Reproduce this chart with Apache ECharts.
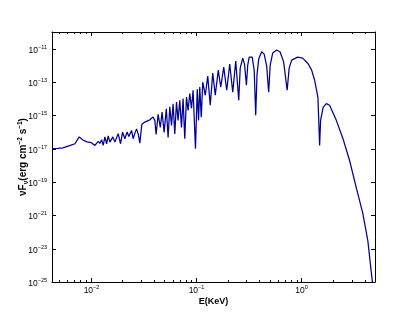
<!DOCTYPE html>
<html><head><meta charset="utf-8">
<script src="https://cdn.jsdelivr.net/npm/echarts@6/dist/echarts.min.js"></script>
<style>html,body{margin:0;padding:0;background:#fff}#c{width:417px;height:313px}</style>
</head><body><div id="c"></div>
<script>
// Energy (keV)
const energy = [0.00430,0.00490,0.00546,0.00622,0.00710,0.00779,0.00845,0.00922,0.01017,0.01098,
0.01180,0.01225,0.01271,0.01316,0.01366,0.01418,0.01468,0.01524,0.01626,0.01699,
0.01826,0.01924,0.02010,0.02113,0.02222,0.02306,0.02446,0.02533,0.02629,0.02729,
0.02838,0.02932,0.03062,0.03269,0.03646,0.03918,0.04067,0.04185,0.04371,0.04586,
0.04770,0.04983,0.05228,0.05438,0.05643,0.05856,0.06065,0.06293,0.06531,0.06763,
0.07018,0.07283,0.07542,0.07827,0.08123,0.08414,0.08731,0.09061,0.09385,0.09888,
0.1028,0.1058,0.1086,0.1122,0.1159,0.1225,0.1293,0.1366,0.1442,0.1524,
0.1627,0.1718,0.1834,0.1958,0.2091,0.2233,0.2384,0.2545,0.2629,0.2777,
0.2887,0.3011,0.3097,0.3200,0.3306,0.3416,0.3568,0.3687,0.3793,0.3937,
0.4203,0.4439,0.4688,0.4897,0.5060,0.5344,0.5832,0.6292,0.6794,0.7333,
0.7661,0.8091,0.9222,1.028,1.155,1.252,1.337,1.436,1.491,1.523,
1.609,1.725,1.854,2.147,2.479,2.869,3.32,3.836,4.277,4.709,4.79];
// nu F_nu (erg cm^-2 s^-1)
const flux = [9.9e-18,1.03e-17,1.13e-17,1.46e-17,1.97e-17,5.07e-17,3.34e-17,2.54e-17,2.27e-17,1.56e-17,
2.72e-17,2.06e-17,3.44e-17,1.56e-17,5.07e-17,1.97e-17,5.82e-17,2.47e-17,5.07e-17,2.47e-17,
7.9e-17,1.97e-17,9.86e-17,3.95e-17,9.9e-17,5.43e-17,1.25e-16,3.95e-17,8.24e-17,1.54e-16,
7.17e-17,2.14e-17,2.87e-16,3.95e-16,5.36e-16,7.9e-16,5.0e-16,7.17e-17,1.15e-15,1.89e-16,
1.58e-15,9.46e-17,2.47e-15,4.73e-17,3.25e-15,2.5e-16,4.93e-15,7.69e-17,6.33e-15,5.0e-16,
8.0e-15,1.89e-16,1.01e-14,3.95e-17,1.26e-14,2.0e-15,2.03e-14,2.64e-15,3.21e-14,9.9e-18,
3.68e-14,5.0e-16,5.07e-14,7.59e-16,9.73e-14,1.6e-14,2.24e-13,4.0e-15,3.39e-13,1.6e-14,
5.14e-13,4.86e-14,7.8e-13,3.21e-14,1.18e-12,2.43e-14,1.79e-12,8.0e-15,6.78e-13,2.72e-12,
1.18e-12,6.41e-14,1.03e-12,3.12e-12,4.11e-12,3.12e-12,5.14e-13,1.0e-15,2.57e-13,2.37e-12,
6.5e-12,4.73e-12,8.95e-13,2.43e-14,1.03e-12,5.43e-12,8.24e-12,6.24e-12,1.56e-12,3.21e-14,
6.78e-13,2.06e-12,3.12e-12,2.72e-12,1.3e-12,5.14e-13,1.28e-13,1.21e-14,1.56e-17,5.0e-16,
3.03e-15,5.07e-15,4.0e-15,5.0e-16,4.12e-17,1.95e-18,4.6e-20,1.25e-21,2.95e-23,1.15e-25,7.6e-26];
const xRange = [0.0043, 5];
const yRange = [1e-25, 1e-10];
const xMajorTicks = [0.01, 0.1, 1];
const xMinorTicks = [0.005,0.006,0.007,0.008,0.009,0.02,0.03,0.04,0.05,0.06,0.07,0.08,0.09,
0.2,0.3,0.4,0.5,0.6,0.7,0.8,0.9,2,3,4];
const yTicks = [1e-25,1e-23,1e-21,1e-19,1e-17,1e-15,1e-13,1e-11];
const xLabel = 'E(KeV)';

const FONT = 'Liberation Sans';
const chart = echarts.init(document.getElementById('c'), null, {renderer:'canvas'});
function powLabel(v){
  const e = Math.round(Math.log10(v));
  return '{b|10}{s|' + String(e).replace('-', '\u2212') + '}';
}
const richLab = {
  b:{fontSize:8.5, fontFamily:FONT, color:'#000', verticalAlign:'bottom', lineHeight:11},
  s:{fontSize:5.5, fontFamily:FONT, color:'#000', verticalAlign:'top', lineHeight:11, padding:[0,0,5,0]}
};
const lineAx = {show:true, onZero:false, lineStyle:{color:'#000', width:1}};
function xAx(pos, labels){
  return {type:'log', position:pos, min:xRange[0], max:xRange[1], logBase:10,
    axisLine:lineAx, axisTick:{show:false}, splitLine:{show:false},
    axisLabel:{show:false},
    name: labels ? xLabel : '', nameLocation:'middle', nameGap:15,
    nameTextStyle:{fontFamily:FONT, fontSize:9, fontWeight:'bold', color:'#000'}};
}
function yAx(pos, labels){
  return {type:'log', position:pos, min:yRange[0], max:yRange[1], logBase:10,
    axisLine:lineAx, axisTick:{show:false}, splitLine:{show:false},
    axisLabel:{show:false},
    name: labels ? '{a|\u03bdF}{sub|\u03bd}{a|(erg cm}{sup|\u22122}{a| s}{sup|\u22121}{a|)}' : '',
    nameLocation:'middle', nameGap:22, nameRotate:90,
    nameTextStyle:{rich:{
      a:{fontFamily:FONT, fontSize:10, fontWeight:'bold', color:'#000', lineHeight:13, verticalAlign:'middle'},
      sub:{fontFamily:FONT, fontSize:6.5, fontWeight:'bold', color:'#000', lineHeight:13, padding:[6,0,0,0]},
      sup:{fontFamily:FONT, fontSize:6.5, fontWeight:'bold', color:'#000', lineHeight:13, padding:[0,0,6,0]}
    }}};
}
function xTickSeries(vals, len, withLabel){
  return {type:'custom', xAxisIndex:0, yAxisIndex:0, silent:true,
    data:vals.map(v=>[v, 1e-20]), encode:{x:0, y:1},
    renderItem:function(params, api){
      const x = Math.round(api.coord([api.value(0), 1e-20])[0]) + 0.5;
      const cs = params.coordSys;
      const b = cs.y + cs.height, t = cs.y;
      const ch = [
        {type:'line', shape:{x1:x, y1:b, x2:x, y2:b-len}, style:{stroke:'#000', lineWidth:1}},
        {type:'line', shape:{x1:x, y1:t, x2:x, y2:t+len}, style:{stroke:'#000', lineWidth:1}}
      ];
      if (withLabel) ch.push({type:'text', style:{text:powLabel(api.value(0)), rich:richLab,
        x:x, y:b+2, align:'center', verticalAlign:'top'}});
      return {type:'group', children:ch};
    }};
}
chart.setOption({
  animation:false,
  backgroundColor:'#fff',
  grid:{left:52, top:32, right:42, bottom:31, containLabel:false},
  xAxis:[xAx('bottom', true), xAx('top', false)],
  yAxis:[yAx('left', true), yAx('right', false)],
  series:[
    {type:'line', xAxisIndex:0, yAxisIndex:0, data:energy.map((e,i)=>[e, flux[i]]),
     showSymbol:false, symbol:'none', clip:true, smooth:false,
     lineStyle:{color:'#000096', width:1.25}},
    xTickSeries(xMinorTicks, 2, false),
    xTickSeries(xMajorTicks, 4, true),
    {type:'custom', xAxisIndex:0, yAxisIndex:0, silent:true,
     data:yTicks.map(v=>[1, v]), encode:{x:0, y:1},
     renderItem:function(params, api){
       const y = Math.round(api.coord([1, api.value(1)])[1]) + 0.5;
       const cs = params.coordSys;
       const l = cs.x, r = cs.x + cs.width;
       return {type:'group', children:[
         {type:'line', shape:{x1:l, y1:y, x2:l+4, y2:y}, style:{stroke:'#000', lineWidth:1}},
         {type:'line', shape:{x1:r, y1:y, x2:r-4, y2:y}, style:{stroke:'#000', lineWidth:1}},
         {type:'text', style:{text:powLabel(api.value(1)), rich:richLab, x:l-5, y:y,
           align:'right', verticalAlign:'middle'}}
       ]};
     }}
  ]
});
</script></body></html>
